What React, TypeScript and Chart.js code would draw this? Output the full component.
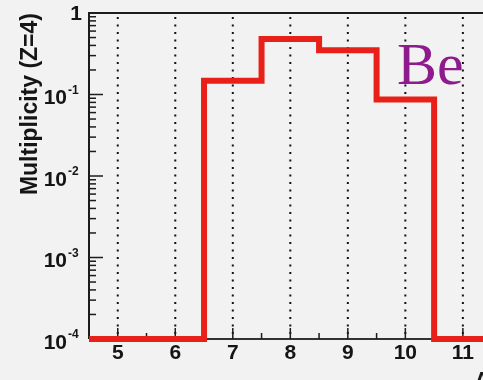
import React, { useEffect, useRef } from "react";
import { Chart, registerables } from "chart.js";

Chart.register(...registerables);

// ---- data ----
const binCenters = [5, 6, 7, 8, 9, 10, 11, 12];
const multiplicity = [1e-4, 1e-4, 0.147, 0.48, 0.35, 0.087, 1e-4, 1e-4];
const xTickValues = [5, 6, 7, 8, 9, 10, 11];
const xMinorTickValues = [5.5, 6.5, 7.5, 8.5, 9.5, 10.5, 11.5];
const yTickValues = [1, 0.1, 0.01, 0.001, 0.0001];
const yTickBases = ["1", "10", "10", "10", "10"];
const yTickExponents = ["", "-1", "-2", "-3", "-4"];
const yTitle = "Multiplicity (Z=4)";
const xTitle = "A";
const elementLabel = "Be";

const FONT = "'Liberation Sans', Arial, 'DejaVu Sans', sans-serif";

const framePlugin = {
  id: "rootFrame",
  beforeDraw(chart: any) {
    const { ctx, width, height } = chart;
    ctx.save();
    ctx.fillStyle = "#f2f2f2";
    ctx.fillRect(0, 0, width, height);
    ctx.restore();
  },
  beforeDatasetsDraw(chart: any) {
    const { ctx, chartArea } = chart;
    const xs = chart.scales.x;
    const ys = chart.scales.y;
    const { left, right, top, bottom } = chartArea;
    ctx.save();
    // dotted vertical grid
    ctx.strokeStyle = "#111";
    ctx.lineWidth = 2;
    ctx.setLineDash([2, 5.5]);
    for (const v of xTickValues) {
      const px = xs.getPixelForValue(v);
      ctx.beginPath();
      ctx.moveTo(px, top + 4);
      ctx.lineTo(px, bottom);
      ctx.stroke();
    }
    ctx.setLineDash([]);
    // axes
    ctx.strokeStyle = "#1c1c1c";
    ctx.lineWidth = 2;
    ctx.beginPath();
    ctx.moveTo(right + 5, top);
    ctx.lineTo(left, top);
    ctx.lineTo(left, bottom);
    ctx.stroke();
    ctx.strokeStyle = "#333";
    ctx.beginPath();
    ctx.moveTo(left, bottom);
    ctx.lineTo(right + 5, bottom);
    ctx.stroke();
    // y ticks (major + minor) inside
    ctx.lineWidth = 1.5;
    ctx.strokeStyle = "#1c1c1c";
    for (let e = -4; e <= 0; e++) {
      for (let m = 1; m <= 9; m++) {
        const v = m * Math.pow(10, e);
        if (v > 1.0000001) continue;
        const py = ys.getPixelForValue(v);
        const len = m === 1 ? 14 : 7;
        ctx.beginPath();
        ctx.moveTo(left, py);
        ctx.lineTo(left + len, py);
        ctx.stroke();
      }
    }
    // x ticks
    for (const v of xTickValues) {
      const px = xs.getPixelForValue(v);
      ctx.beginPath();
      ctx.moveTo(px, bottom);
      ctx.lineTo(px, bottom - 11);
      ctx.stroke();
    }
    for (const v of xMinorTickValues) {
      const px = xs.getPixelForValue(v);
      ctx.beginPath();
      ctx.moveTo(px, bottom);
      ctx.lineTo(px, bottom - 6);
      ctx.stroke();
    }
    // y tick labels: base + small superscript exponent
    ctx.fillStyle = "#151515";
    ctx.textBaseline = "middle";
    yTickValues.forEach((v, i) => {
      const py = ys.getPixelForValue(v);
      const exp = yTickExponents[i];
      if (!exp) {
        ctx.font = "bold 21px " + FONT;
        ctx.textAlign = "right";
        ctx.fillText(yTickBases[i], left - 7, py + 1);
      } else {
        ctx.font = "bold 21px " + FONT;
        ctx.textAlign = "right";
        ctx.fillText(yTickBases[i], left - 22, py + 4);
        ctx.font = "bold 12px " + FONT;
        ctx.textAlign = "left";
        ctx.fillText(exp, left - 21, py - 4);
      }
    });
    ctx.restore();
  },
  afterDatasetsDraw(chart: any) {
    const { ctx, chartArea } = chart;
    ctx.save();
    ctx.fillStyle = "#8e1b8e";
    ctx.font = "60px 'Liberation Serif', 'Times New Roman', serif";
    ctx.textBaseline = "alphabetic";
    ctx.textAlign = "left";
    ctx.fillText(elementLabel, 397, 84);
    ctx.fillStyle = "#1a1a1a";
    ctx.font = "bold 23px " + FONT;
    ctx.fillText(xTitle, chartArea.right - 9, chartArea.bottom + 50);
    ctx.restore();
  },
};

export default function App() {
  const ref = useRef<HTMLCanvasElement | null>(null);
  useEffect(() => {
    if (!ref.current) return;
    const points: { x: number; y: number }[] = binCenters.map((c, i) => ({ x: c - 0.5, y: multiplicity[i] }));
    points.push({ x: binCenters[binCenters.length - 1] + 0.5, y: multiplicity[multiplicity.length - 1] });
    const chart = new Chart(ref.current, {
      type: "line",
      data: {
        datasets: [
          {
            data: points,
            borderColor: "#e8201a",
            borderWidth: 6,
            stepped: "before",
            pointRadius: 0,
            fill: false,
            clip: false as any,
            borderJoinStyle: "miter",
            borderCapStyle: "butt",
          },
        ],
      },
      options: {
        animation: false,
        responsive: false,
        maintainAspectRatio: false,
        events: [],
        layout: { padding: { top: 13, left: 0, right: 0, bottom: 0 } },
        plugins: { legend: { display: false }, tooltip: { enabled: false } },
        scales: {
          x: {
            type: "linear",
            min: 4.5,
            max: 11.35,
            afterBuildTicks: (s: any) => {
              s.ticks = xTickValues.map((v) => ({ value: v }));
            },
            afterFit: (s: any) => {
              s.height = 41;
            },
            grid: { display: false, drawTicks: false },
            border: { display: false },
            ticks: {
              autoSkip: false,
              maxRotation: 0,
              padding: 2,
              color: "#151515",
              font: { family: FONT, size: 21, weight: "bold" },
              callback: (v: any) => String(v),
            },
          },
          y: {
            type: "logarithmic",
            min: 1e-4,
            max: 1,
            afterBuildTicks: (s: any) => {
              s.ticks = yTickValues.map((v) => ({ value: v }));
            },
            afterFit: (s: any) => {
              s.width = 89;
            },
            grid: { display: false, drawTicks: false },
            border: { display: false },
            title: {
              display: true,
              text: yTitle,
              align: "end",
              color: "#151515",
              font: { family: FONT, size: 23, weight: "bold" },
              padding: { top: 17, bottom: 0 },
            },
            ticks: { display: false },
          },
        },
      },
      plugins: [framePlugin],
    });
    return () => chart.destroy();
  }, []);
  return (
    <div style={{ position: "fixed", left: 0, top: 0, width: 483, height: 380, background: "#f2f2f2" }}>
      <canvas ref={ref} width={483} height={380} style={{ display: "block", width: 483, height: 380 }} />
    </div>
  );
}
